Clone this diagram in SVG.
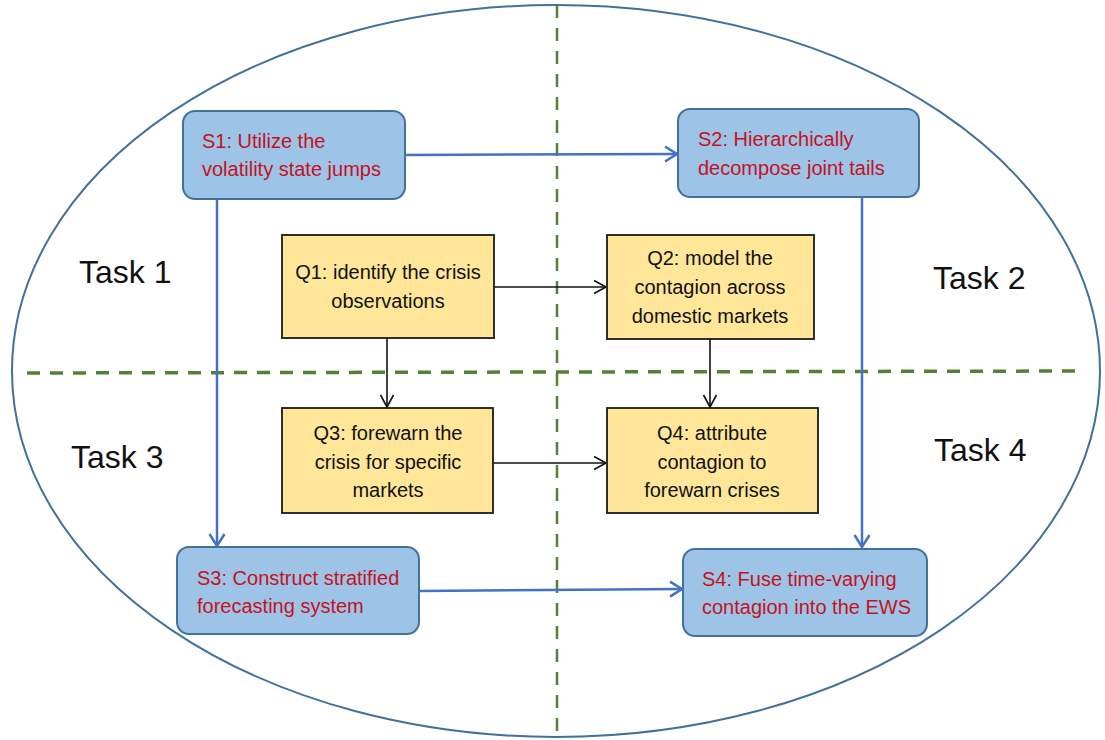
<svg xmlns="http://www.w3.org/2000/svg" width="1105" height="740" viewBox="0 0 1105 740">
  <defs>
    <marker id="arrow-blue" viewBox="-15 -10 17 20" refX="0" refY="0" markerWidth="17" markerHeight="20" markerUnits="userSpaceOnUse" orient="auto">
      <path d="M-12,-7.5 L0,0 L-12,7.5" fill="none" stroke="#4472c4" stroke-width="2.5"/>
    </marker>
    <marker id="arrow-black" viewBox="-15 -10 17 20" refX="0" refY="0" markerWidth="17" markerHeight="20" markerUnits="userSpaceOnUse" orient="auto">
      <path d="M-12,-6.5 L0,0 L-12,6.5" fill="none" stroke="#111" stroke-width="1.6"/>
    </marker>
  </defs>
  <style>
    .step rect { fill: #9dc3e6; stroke: #41719c; stroke-width: 2; }
    .step text { font-family: "Liberation Sans", Arial, sans-serif; font-size: 20px; fill: #c5121e; }
    .question rect { fill: #ffe699; stroke: #1a1a1a; stroke-width: 1.8; }
    .question text { font-family: "Liberation Sans", Arial, sans-serif; font-size: 20px; fill: #111; text-anchor: middle; }
    .task { font-family: "Liberation Sans", Arial, sans-serif; font-size: 32px; fill: #111; }
    .blue { stroke: #4472c4; stroke-width: 2.5; fill: none; marker-end: url(#arrow-blue); }
    .black { stroke: #111; stroke-width: 1.6; fill: none; marker-end: url(#arrow-black); }
  </style>

  <rect width="1105" height="740" fill="#ffffff"/>

  <!-- outer boundary -->
  <ellipse id="boundary" cx="556" cy="371" rx="544" ry="366" fill="none" stroke="#41719c" stroke-width="2"/>

  <!-- quadrant dividers -->
  <g id="dividers" fill="none" stroke="#548235">
    <line x1="557" y1="5" x2="557" y2="735" stroke-width="2.5" stroke-dasharray="13 10"/>
    <line x1="27" y1="373" x2="1085" y2="371" stroke-width="3.5" stroke-dasharray="13 10"/>
  </g>

  <!-- task labels -->
  <g id="tasks">
    <text class="task" x="79" y="283">Task 1</text>
    <text class="task" x="933" y="289">Task 2</text>
    <text class="task" x="71" y="468">Task 3</text>
    <text class="task" x="934" y="461">Task 4</text>
  </g>

  <!-- connectors -->
  <g id="connectors">
    <line class="blue" x1="405" y1="155" x2="677" y2="154"/>
    <line class="blue" x1="217" y1="199" x2="217" y2="546"/>
    <line class="blue" x1="862" y1="197" x2="862" y2="547"/>
    <line class="blue" x1="419" y1="591" x2="682" y2="589"/>
    <line class="black" x1="494" y1="287" x2="606" y2="287"/>
    <line class="black" x1="387" y1="338" x2="387" y2="407"/>
    <line class="black" x1="710" y1="339" x2="710" y2="407"/>
    <line class="black" x1="493" y1="463" x2="606" y2="463"/>
  </g>

  <!-- strategy nodes -->
  <g id="S1" class="step">
    <rect x="183" y="111" width="222" height="88" rx="12"/>
    <text x="202" y="148">S1: Utilize the</text>
    <text x="202" y="176">volatility state jumps</text>
  </g>
  <g id="S2" class="step">
    <rect x="678" y="109" width="241" height="88" rx="12"/>
    <text x="698" y="146">S2: Hierarchically</text>
    <text x="698" y="175">decompose joint tails</text>
  </g>
  <g id="S3" class="step">
    <rect x="177" y="547" width="242" height="87" rx="12"/>
    <text x="197" y="585">S3: Construct stratified</text>
    <text x="197" y="613">forecasting system</text>
  </g>
  <g id="S4" class="step">
    <rect x="683" y="549" width="244" height="87" rx="12"/>
    <text x="702" y="586">S4: Fuse time-varying</text>
    <text x="702" y="614">contagion into the EWS</text>
  </g>

  <!-- question nodes -->
  <g id="Q1" class="question">
    <rect x="282" y="235" width="212" height="103"/>
    <text x="388" y="279">Q1: identify the crisis</text>
    <text x="388" y="308">observations</text>
  </g>
  <g id="Q2" class="question">
    <rect x="607" y="235" width="207" height="104"/>
    <text x="710" y="265">Q2: model the</text>
    <text x="710" y="294">contagion across</text>
    <text x="710" y="323">domestic markets</text>
  </g>
  <g id="Q3" class="question">
    <rect x="282" y="408" width="211" height="105"/>
    <text x="388" y="440">Q3: forewarn the</text>
    <text x="388" y="469">crisis for specific</text>
    <text x="388" y="497">markets</text>
  </g>
  <g id="Q4" class="question">
    <rect x="607" y="408" width="211" height="105"/>
    <text x="712" y="440">Q4: attribute</text>
    <text x="712" y="469">contagion to</text>
    <text x="712" y="497">forewarn crises</text>
  </g>
</svg>
